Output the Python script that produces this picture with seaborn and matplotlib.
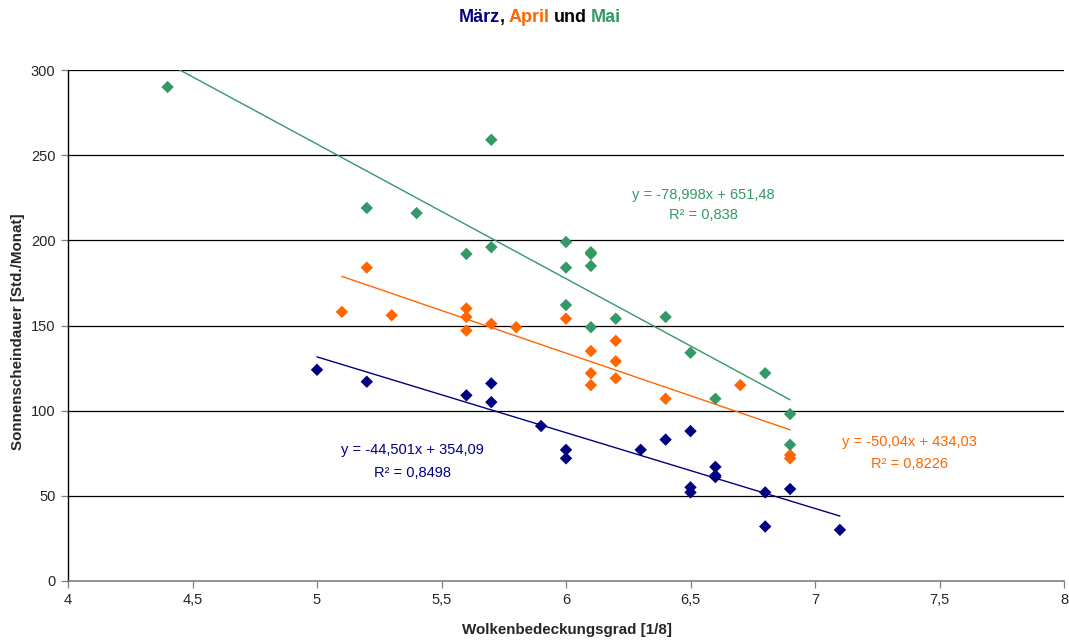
import numpy as np
import pandas as pd
import matplotlib
matplotlib.use("Agg")
import matplotlib.pyplot as plt
from matplotlib.ticker import FuncFormatter
import seaborn as sns

# ---- data ----
maerz_x = [5.0, 5.2, 5.6, 5.7, 5.7, 5.9, 6.0, 6.0, 6.3, 6.4, 6.5, 6.5, 6.5, 6.6, 6.6, 6.6, 6.8, 6.8, 6.9, 7.1]
maerz_y = [124, 117, 109, 116, 105, 91, 77, 72, 77, 83, 88, 55, 52, 67, 62, 61, 52, 32, 54, 30]

april_x = [5.1, 5.2, 5.3, 5.6, 5.6, 5.6, 5.7, 5.8, 6.0, 6.1, 6.1, 6.1, 6.2, 6.2, 6.2, 6.4, 6.7, 6.9, 6.9]
april_y = [158, 184, 156, 160, 155, 147, 151, 149, 154, 135, 122, 115, 141, 129, 119, 107, 115, 74, 72]

mai_x = [4.4, 5.2, 5.4, 5.6, 5.7, 5.7, 6.0, 6.0, 6.0, 6.1, 6.1, 6.1, 6.1, 6.2, 6.4, 6.5, 6.6, 6.8, 6.9, 6.9]
mai_y = [290, 219, 216, 192, 259, 196, 199, 184, 162, 193, 192, 185, 149, 154, 155, 134, 107, 122, 98, 80]

months = ["März", "April", "Mai"]
slopes = [-44.501, -50.04, -78.998]
intercepts = [354.09, 434.03, 651.48]
eq_texts = ["y = -44,501x + 354,09", "y = -50,04x + 434,03", "y = -78,998x + 651,48"]
r2_texts = ["R² = 0,8498", "R² = 0,8226", "R² = 0,838"]

x_ticks = [4, 4.5, 5, 5.5, 6, 6.5, 7, 7.5, 8]
y_ticks = [0, 50, 100, 150, 200, 250, 300]

colors = {"März": "#000080", "April": "#FF6600", "Mai": "#339966"}

# ---- build frame ----
df = pd.concat([
    pd.DataFrame({"x": maerz_x, "y": maerz_y, "Monat": "März"}),
    pd.DataFrame({"x": april_x, "y": april_y, "Monat": "April"}),
    pd.DataFrame({"x": mai_x, "y": mai_y, "Monat": "Mai"}),
], ignore_index=True)

sns.set_style("ticks")
plt.rcParams["font.family"] = ["Liberation Sans", "DejaVu Sans"]

W, H = 1069, 642
fig = plt.figure(figsize=(W / 100, H / 100), dpi=100)
ax = fig.add_axes([68 / W, 1 - 581 / H, (1064 - 68) / W, (581 - 70) / H])

# horizontal gridlines
for yv in y_ticks[1:]:
    ax.axhline(yv, color="black", lw=0.9, zorder=0)

# trend lines
for m, k, d in zip(months, slopes, intercepts):
    sub = df[df["Monat"] == m]
    xs = np.array([sub["x"].min(), sub["x"].max()])
    line_df = pd.DataFrame({"x": xs, "y": k * xs + d})
    sns.lineplot(data=line_df, x="x", y="y", ax=ax, color=colors[m], lw=1.0, zorder=2)

sns.scatterplot(data=df, x="x", y="y", hue="Monat", palette=colors, marker="D",
                s=40, linewidth=0, ax=ax, legend=False, zorder=3)

ax.set_xlim(4, 8)
ax.set_ylim(0, 300)
ax.set_xticks(x_ticks)
ax.set_yticks(y_ticks)
ax.xaxis.set_major_formatter(FuncFormatter(lambda v, p: ("%g" % v).replace(".", ",")))
ax.tick_params(axis="both", direction="out", length=5, width=0.9, color="#808080",
               labelsize=10.5, pad=4)
for s in ["top", "right"]:
    ax.spines[s].set_visible(False)
ax.spines["left"].set_color("black")
ax.spines["left"].set_linewidth(1.0)
ax.spines["bottom"].set_color("#808080")
ax.spines["bottom"].set_linewidth(1.2)

ax.set_xlabel("Wolkenbedeckungsgrad [1/8]", fontsize=10.9, fontweight="bold")
ax.set_ylabel("Sonnenscheindauer [Std./Monat]", fontsize=10.9, fontweight="bold")
ax.xaxis.set_label_coords((567 - 68) / 996, (581 - 630) / 511)
ax.yaxis.set_label_coords((18 - 68) / 996, (581 - 332) / 511)
ax.xaxis.label.set_va("center")
ax.yaxis.label.set_va("center")

# equations
eq_pos = {"März": (5.383, 76.9, 63.4), "April": (7.378, 81.6, 68.7), "Mai": (6.550, 226.7, 214.9)}
for m, eq, r2 in zip(months, eq_texts, r2_texts):
    xp, y1, y2 = eq_pos[m]
    ax.text(xp, y1, eq, color=colors[m], fontsize=10.5, ha="center", va="center")
    ax.text(xp, y2, r2, color=colors[m], fontsize=10.5, ha="center", va="center")

# multicolour title, pieces placed one after another
parts = [("März", colors["März"], 0), (",", "black", 0), ("April", colors["April"], 4),
         ("und", "black", 4), ("Mai", colors["Mai"], 4)]
title_fs = 13
texts = []
for s, c, gap in parts:
    t = fig.text(0.5, 1 - 22 / H, s, color=c, fontsize=title_fs, fontweight="bold",
                 ha="left", va="baseline")
    texts.append((t, gap))

fig.canvas.draw()
renderer = fig.canvas.get_renderer()
widths = [t.get_window_extent(renderer).width for t, g in texts]
gaps = [g for t, g in texts]
total = sum(widths) + sum(gaps)
x0 = 540 - total / 2
ybase = 1 - 22 / H
for (t, g), w in zip(texts, widths):
    x0 += g
    t.set_position((x0 / W, ybase))
    x0 += w

fig.savefig("out.png", dpi=100)
